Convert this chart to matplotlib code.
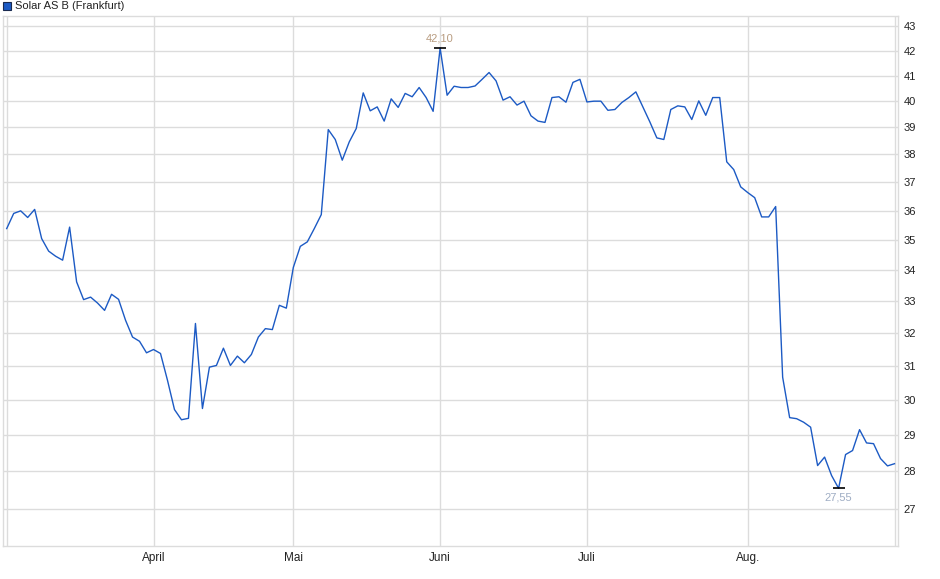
import matplotlib
matplotlib.use('Agg')
import matplotlib.pyplot as plt
from matplotlib.patches import Rectangle
from matplotlib.ticker import FixedLocator, NullLocator

plt.rcParams['font.family'] = ['Liberation Sans', 'DejaVu Sans']

# daily closes, Frankfurt
prices = [
    35.38, 35.90, 35.99, 35.76, 36.04, 35.04, 34.62, 34.45, 34.32, 35.43,
    33.61, 33.04, 33.12, 32.93, 32.70, 33.21, 33.05, 32.39, 31.87, 31.74,
    31.39, 31.49, 31.37, 30.57, 29.72, 29.43, 29.47, 32.29, 29.75, 30.96,
    31.01, 31.53, 31.01, 31.29, 31.09, 31.34, 31.87, 32.13, 32.10, 32.86,
    32.77, 34.08, 34.78, 34.93, 35.38, 35.86, 38.92, 38.55, 37.79, 38.46,
    38.96, 40.32, 39.63, 39.78, 39.24, 40.09, 39.76, 40.30, 40.17, 40.53,
    40.14, 39.61, 42.10, 40.23, 40.58, 40.53, 40.53, 40.59, 40.85, 41.12,
    40.79, 40.04, 40.17, 39.85, 40.00, 39.44, 39.24, 39.19, 40.14, 40.17,
    39.96, 40.73, 40.85, 39.97, 40.00, 40.00, 39.65, 39.68, 39.95, 40.14,
    40.36, 39.78, 39.21, 38.61, 38.55, 39.68, 39.82, 39.78, 39.30, 40.01,
    39.46, 40.14, 40.14, 37.73, 37.45, 36.83, 36.63, 36.45, 35.78, 35.78,
    36.14, 30.66, 29.49, 29.46, 29.36, 29.22, 28.16, 28.39, 27.89, 27.55,
    28.46, 28.57, 29.15, 28.78, 28.76, 28.35, 28.15, 28.21,
]
month_labels = ['April', 'Mai', 'Juni', 'Juli', 'Aug.']
month_start = [21, 41, 62, 83, 106]   # index of first trading day
y_ticks = list(range(27, 44))

x = list(range(len(prices)))

fig = plt.figure(figsize=(9.4, 5.79), dpi=100)
ax = fig.add_axes([3 / 940, 1 - 546 / 579, 895 / 940, 530 / 579])

grid_c = '#dcdcdc'
ax.set_yscale('log')
ax.set_ylim(26.06, 43.42)
ax.set_xlim(-0.53, len(prices) - 0.5)

ax.yaxis.set_major_locator(FixedLocator(y_ticks))
ax.yaxis.set_minor_locator(NullLocator())
ax.set_yticklabels([str(t) for t in y_ticks])
ax.yaxis.tick_right()
ax.tick_params(axis='y', length=0, pad=4, labelsize=8, labelcolor='#222222')

ax.set_xticks(month_start)
ax.set_xticklabels(month_labels)
ax.tick_params(axis='x', length=0, pad=4, labelsize=8.5, labelcolor='#222222')

for t in y_ticks:
    ax.axhline(t, color=grid_c, lw=1.0, zorder=0)
for m in month_start + [0, len(prices) - 1]:
    ax.axvline(m, color=grid_c, lw=1.0, zorder=0)

for s in ax.spines.values():
    s.set_color(grid_c)
    s.set_linewidth(1.0)

ax.plot(x, prices, color='#1c5ac4', lw=1.0, zorder=3)

# high / low markers
i_hi = prices.index(max(prices))
i_lo = prices.index(min(prices))
ax.plot([i_hi, i_lo], [prices[i_hi], prices[i_lo]], ls='none', marker='_',
        ms=9, mew=1.2, color='black', zorder=4)
ax.annotate(f'{prices[i_hi]:.2f}'.replace('.', ','), (i_hi, prices[i_hi]),
            xytext=(0, 3), textcoords='offset points', ha='center', va='bottom',
            fontsize=8, color='#b89c80')
ax.annotate(f'{prices[i_lo]:.2f}'.replace('.', ','), (i_lo, prices[i_lo]),
            xytext=(0, -3), textcoords='offset points', ha='center', va='top',
            fontsize=8, color='#9fadc4')

# legend entry at the top left
fig.patches.append(Rectangle((3 / 940, 1 - 10 / 579), 8 / 940, 8 / 579,
                             transform=fig.transFigure, facecolor='#1c5ac4',
                             edgecolor='#1a2a50', lw=0.8))
fig.text(15 / 940, 1 - 6 / 579, 'Solar AS B (Frankfurt)', fontsize=8,
         color='#222222', va='center', ha='left')

fig.savefig('out.png', dpi=100)
